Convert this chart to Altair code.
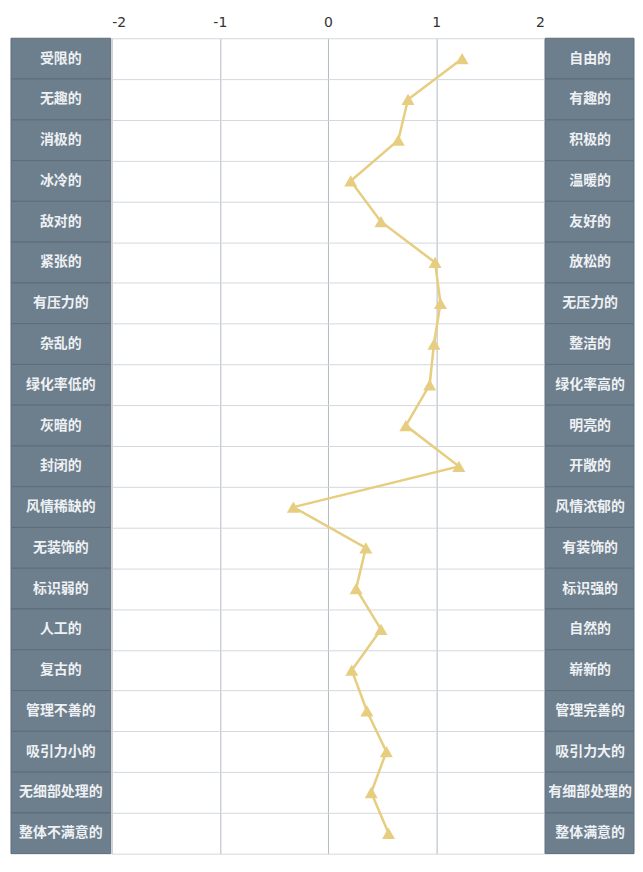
import altair as alt
import pandas as pd

left_labels = ["受限的", "无趣的", "消极的", "冰冷的", "敌对的", "紧张的", "有压力的", "杂乱的",
               "绿化率低的", "灰暗的", "封闭的", "风情稀缺的", "无装饰的", "标识弱的", "人工的",
               "复古的", "管理不善的", "吸引力小的", "无细部处理的", "整体不满意的"]
right_labels = ["自由的", "有趣的", "积极的", "温暖的", "友好的", "放松的", "无压力的", "整洁的",
                "绿化率高的", "明亮的", "开敞的", "风情浓郁的", "有装饰的", "标识强的", "自然的",
                "崭新的", "管理完善的", "吸引力大的", "有细部处理的", "整体满意的"]
scores = [1.24, 0.74, 0.65, 0.21, 0.49, 0.99, 1.04, 0.98, 0.94, 0.72,
          1.21, -0.32, 0.35, 0.26, 0.49, 0.22, 0.36, 0.54, 0.40, 0.56]
x_ticks = [-2, -1, 0, 1, 2]

df = pd.DataFrame({
    "idx": list(range(len(left_labels))),
    "left": left_labels,
    "right": right_labels,
    "score": scores,
})

ROW_H = 40.9
N = len(left_labels)
H = ROW_H * N
BOX = "#6d7e8d"
SEP = "#5d6c79"
TXT = "#eef1f3"
GOLD = "#e6cd7f"
CJK = "Noto Sans CJK SC"

yscale = alt.Scale(paddingInner=0, paddingOuter=0)


def label_panel(field, width, text_x):
    base = alt.Chart(df).encode(
        y=alt.Y("left:N", sort=left_labels, scale=yscale, axis=None)
    )
    rect = base.mark_rect(fill=BOX, stroke=SEP, strokeWidth=1).encode(
        x=alt.value(0), x2=alt.value(width)
    )
    txt = base.mark_text(color=TXT, fontSize=14, font=CJK, fontWeight="bold",
                         align="center", baseline="middle").encode(
        x=alt.value(text_x), text=f"{field}:N"
    )
    return alt.layer(rect, txt).properties(width=width, height=H)


mid_base = alt.Chart(df).encode(
    y=alt.Y("left:N", sort=left_labels, scale=yscale,
            axis=alt.Axis(grid=True, tickBand="extent", labels=False, ticks=False,
                          domain=False, title=None, gridColor="#d4d8dc", gridWidth=1)),
    x=alt.X("score:Q", scale=alt.Scale(domain=[-2, 2], nice=False, zero=False),
            axis=alt.Axis(orient="top", values=x_ticks, grid=True, gridColor="#b2bbc3",
                          ticks=False, domain=False, title=None, labelFontSize=14,
                          labelColor="#333333", labelFont="DejaVu Sans", labelPadding=9,
                          labelExpr="'' + datum.value")),
)
line = mid_base.mark_line(color=GOLD, strokeWidth=2.5).encode(order="idx:Q")
pts = mid_base.mark_point(shape="triangle-up", filled=True, size=170, opacity=1, color=GOLD)
mid = alt.layer(line, pts).properties(width=434, height=H)

chart = alt.hconcat(
    label_panel("left", 100, 50),
    mid,
    label_panel("right", 89, 45),
    spacing=0,
).properties(
    padding={"left": 2, "top": 6, "right": 0, "bottom": 0}
).configure_view(stroke=None).configure_concat(spacing=0)

chart.save("out.html", embed_options={"renderer": "svg", "actions": False})
